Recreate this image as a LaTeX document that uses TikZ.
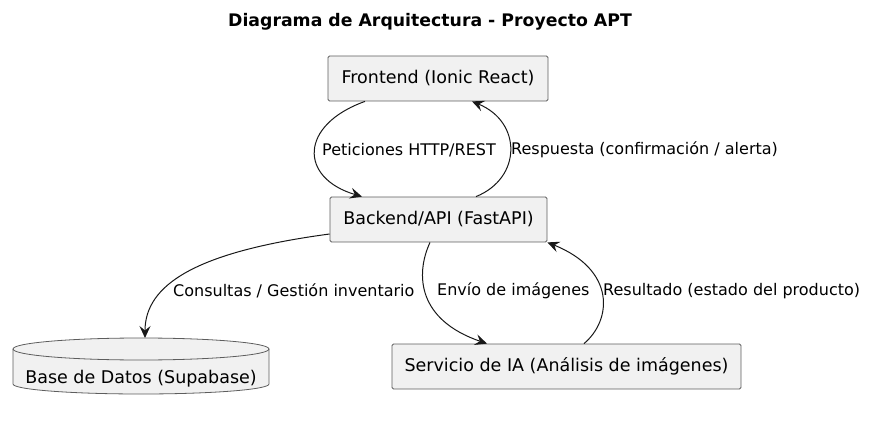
\documentclass[tikz,border=0pt]{standalone}
\usepackage{fontspec}
\setmainfont{DejaVu Sans}
\usetikzlibrary{arrows.meta}
\definecolor{boxfill}{HTML}{F1F1F1}
\definecolor{boxline}{HTML}{181818}
\tikzset{
  box/.style={draw=boxline!70, fill=boxfill, line width=0.8pt, rounded corners=1.5pt, minimum height=45pt, inner sep=0pt, font=\fontsize{17.5}{20}\selectfont},
  conn/.style={draw=boxline, line width=1pt, -{Stealth[length=12pt,width=11pt,inset=4.5pt]}},
  lbl/.style={anchor=west, inner sep=0pt, font=\fontsize{16}{19}\selectfont},
}
\begin{document}
\begin{tikzpicture}[x=1pt,y=-1pt]
\useasboundingbox (0,0) rectangle (890,427);
\node[font=\bfseries\fontsize{17.3}{20}\selectfont] (title) at (430,22) {Diagrama de Arquitectura - Proyecto APT};
\node[box, minimum width=220pt] (fe) at (438,78.5) {Frontend (Ionic React)};
\node[box, minimum width=217pt] (be) at (438.5,219.5) {Backend/API (FastAPI)};
\node[box, minimum width=349pt] (ia) at (566.5,366.5) {Servicio de IA (Análisis de imágenes)};
% database cylinder
\filldraw[draw=boxline!70, fill=boxfill, line width=0.8pt] (13,349) -- (13,384) arc[start angle=180, end angle=360, x radius=128pt, y radius=10pt] -- (269,349) arc[start angle=0, end angle=180, x radius=128pt, y radius=11pt] -- cycle;
\draw[boxline!70, line width=0.8pt] (13,349) arc[start angle=180, end angle=360, x radius=128pt, y radius=11pt];
\node[inner sep=0pt, font=\fontsize{17.5}{20}\selectfont] (db) at (141,379) {Base de Datos (Supabase)};
\coordinate (dbtop) at (145,338);
% connectors
\draw[conn] ([xshift=-73pt]fe.south) .. controls (299,125) and (299,178) .. ([xshift=-76.5pt]be.north);
\draw[conn] ([xshift=37.5pt]be.north) .. controls (522,178) and (522,122) .. ([xshift=34pt]fe.south);
\draw[conn] ([yshift=-14.5pt]be.west) .. controls (195,252) and (145,285) .. (dbtop);
\draw[conn] ([xshift=-8.5pt]be.south) .. controls (415,275) and (418,320) .. ([xshift=-79.5pt]ia.north);
\draw[conn] ([xshift=17.5pt]ia.north) .. controls (612,320) and (616,270) .. (be.south east);
% labels
\node[lbl] (l1) at (322,150) {Peticiones HTTP/REST};
\node[lbl] (l2) at (511,150) {Respuesta (confirmación / alerta)};
\node[lbl] (l3) at (173,291) {Consultas / Gestión inventario};
\node[lbl] (l4) at (437,291) {Envío de imágenes};
\node[lbl] (l5) at (603,291) {Resultado (estado del producto)};
\end{tikzpicture}
\end{document}
